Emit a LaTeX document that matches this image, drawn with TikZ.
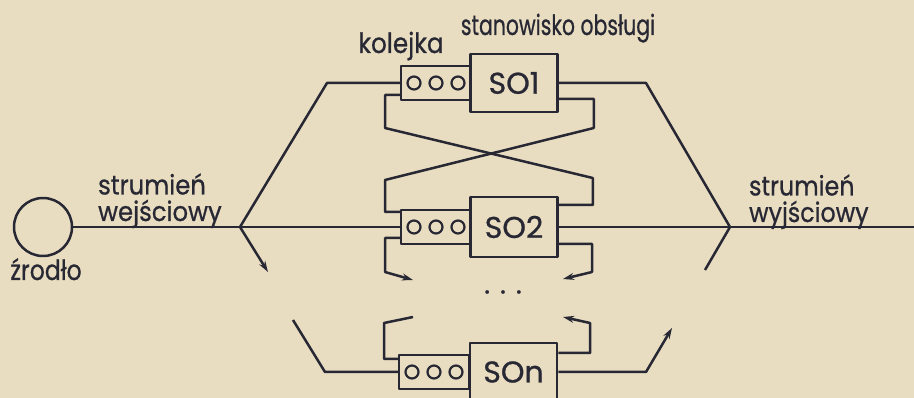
\documentclass[tikz,border=0pt]{standalone}
\usepackage{fontspec}
\setmainfont{Poppins}
\newfontfamily\labfont[FakeBold=0.8]{Poppins}
\usetikzlibrary{arrows.meta,calc}
\definecolor{paper}{RGB}{233,221,193}
\definecolor{ink}{RGB}{40,40,52}
\begin{document}
\begin{tikzpicture}[x=1pt,y=-1pt,line width=2.5pt,color=ink,line join=round,
  queue/.style={draw,rectangle,minimum width=70pt,minimum height=34pt,inner sep=0pt},
  server/.style={draw,rectangle,minimum width=87pt,minimum height=58pt,inner sep=0pt,
    font=\labfont\fontsize{30}{30}\selectfont},
  lab/.style={font=\labfont\fontsize{28}{24}\selectfont,inner sep=0pt,transform shape},
  twolab/.style={lab,align=left,font=\labfont\fontsize{27}{26.5}\selectfont},
  arr/.style={-{Stealth[length=11pt,width=7pt]}},
  dot/.style={line width=2.2pt}]
\fill[paper] (0,0) rectangle (914,398);
\useasboundingbox (0,0) rectangle (914,398);
\clip (0,0) rectangle (914,398);

% source
\node[draw,circle,minimum size=58pt,inner sep=0pt] (src) at (43,227) {};

% queues
\node[queue] (q1) at (436,83) {};
\node[queue] (q2) at (436,227) {};
\node[queue] (qn) at (434,372) {};
\foreach \q in {q1,q2,qn}
  \foreach \dx in {-22,0,22}
    \draw[dot] ($(\q.center)+(\dx,0)$) circle[radius=6.5];

% servers
\node[server] (s1) at (514,83) {SO1};
\node[server,minimum height=60pt] (s2) at (514,227) {SO2};
\node[server] (sn) at (513.5,372) {SOn};

% labels
\node[lab,anchor=base,xscale=0.84] (lsrc) at (46,280) {źrodło};
\node[twolab,anchor=base west,xscale=0.9] (lin) at (97,221) {strumień\\wejściowy};
\node[twolab,anchor=base west,xscale=0.88] (lout) at (748,222) {strumień\\wyjściowy};
\node[lab,anchor=base,xscale=0.88] (lq) at (401,53) {kolejka};
\node[lab,anchor=base,xscale=0.73] (ls) at (558,35) {stanowisko obsługi};
\node[lab] (dots) at (503,292) {. . .};

% coordinates
\coordinate (jL) at (240,227);
\coordinate (cUL) at (327,83);
\coordinate (aL) at (268,272);
\coordinate (bL) at (293,320);
\coordinate (cLL) at (325,372);
\coordinate (jR) at (730,227);
\coordinate (cUR) at (646,83);
\coordinate (eR) at (916,227);
\coordinate (bR) at (705,270);
\coordinate (cLR) at (646,372);
\coordinate (aR) at (672,328);

% input stream
\draw (src.east) -- (q2.west);
\draw (jL) -- (cUL) -- (q1.west);
\draw[arr] (jL) -- (aL);
\draw (bL) -- (cLL) -- (qn.west);

% output stream
\draw (s2.east) -- (eR);
\draw (s1.east) -- (cUR) -- (jR);
\draw (jR) -- (bR);
\draw[arr] (sn.east) -- (cLR) -- (aR);

% feedback between SO1 and SO2
\draw ($(s1.east)+(0,16)$) -- ++(35,0) -- ++(0,29) -- (385,180) -- (385,212) -- ($(q2.west)+(0,-15)$);
\draw ($(s2.east)+(0,-22)$) -- ++(34,0) -- ++(0,-27) -- (385,128) -- (385,95) -- ($(q1.west)+(0,12)$);

% open feedback ends
\draw[arr] ($(q2.west)+(0,11)$) -- (385,238) -- (385,272) -- (413,280);
\draw[arr] ($(s2.east)+(0,17)$) -- (592,244) -- (592,272) -- (563,279);
\draw ($(qn.west)+(0,-13)$) -- (384,359) -- (384,323) -- (413,317);
\draw[arr] ($(sn.east)+(0,-19)$) -- (590,353) -- (590,323) -- (563,317);
\end{tikzpicture}
\end{document}
